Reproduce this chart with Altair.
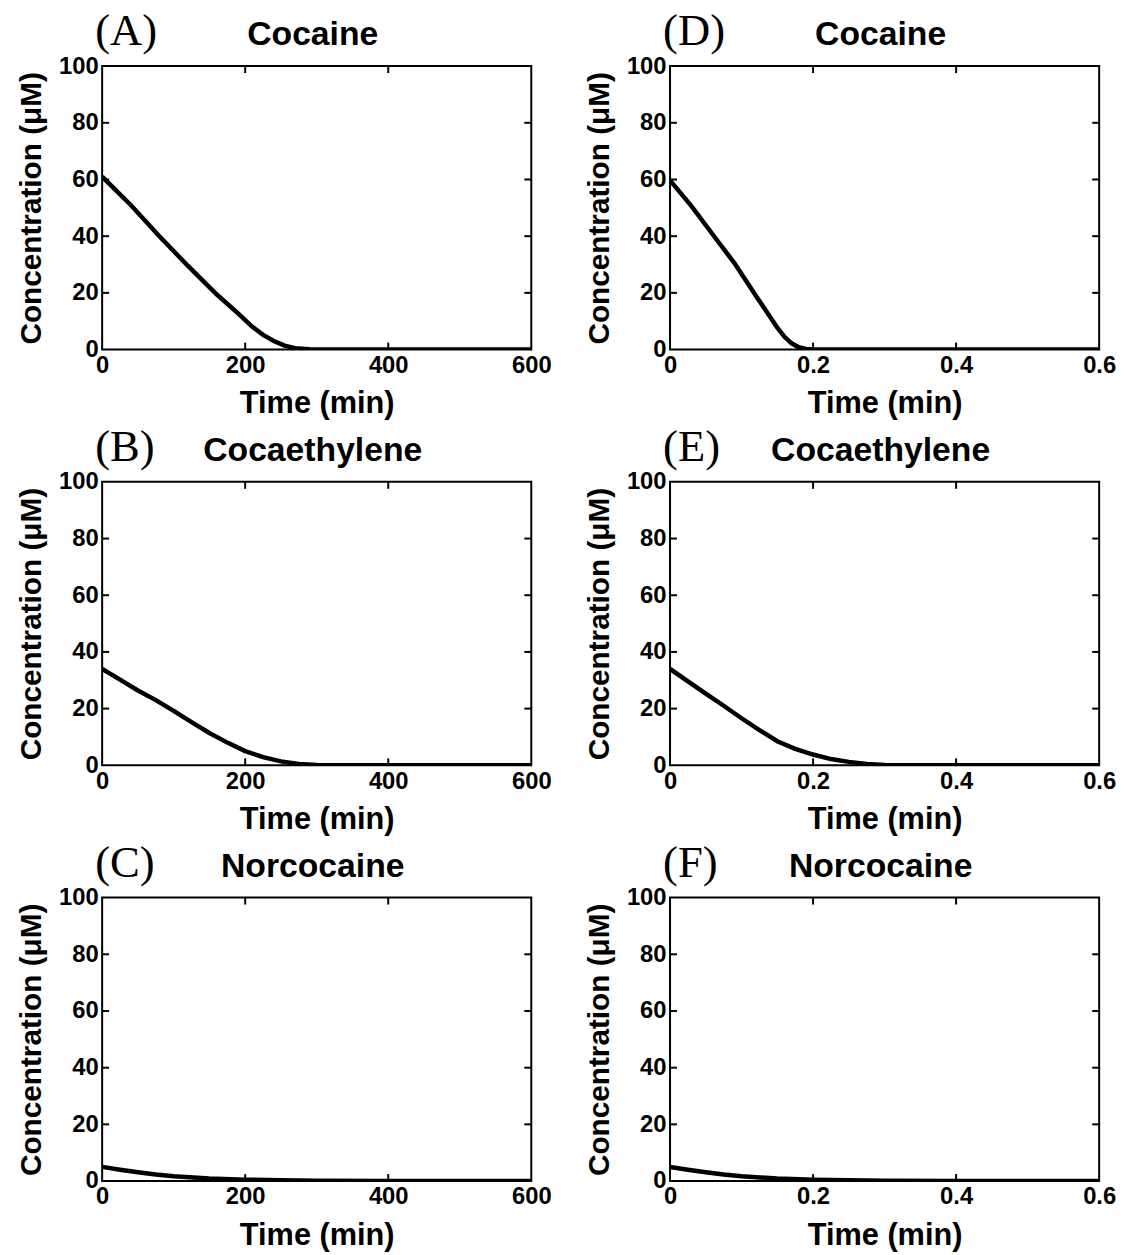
import altair as alt
import pandas as pd

# ---- data ----
A_t = [0, 40, 80, 120, 160, 190, 210, 225, 240, 255, 270, 290, 320, 600]
A_c = [61, 51, 40, 29.5, 19.5, 12.8, 8, 5.2, 3, 1.4, 0.5, 0.15, 0, 0]

B_t = [0, 25, 50, 75, 100, 125, 150, 175, 200, 225, 250, 275, 300, 600]
B_c = [34, 30.2, 26.4, 23, 19.2, 15.2, 11.4, 8, 5, 2.9, 1.4, 0.5, 0.1, 0]

C_t = [0, 25, 50, 75, 100, 150, 200, 250, 300, 400, 600]
C_c = [5, 4, 3.1, 2.3, 1.7, 0.9, 0.5, 0.3, 0.15, 0.05, 0]

D_t = [0, 0.03, 0.06, 0.09, 0.12, 0.14, 0.15, 0.16, 0.17, 0.18, 0.19, 0.2, 0.6]
D_c = [59.7, 50.6, 40.5, 30.5, 19, 11.5, 7.7, 4.5, 2.2, 0.8, 0.2, 0, 0]

E_t = [0, 0.025, 0.05, 0.075, 0.1, 0.125, 0.15, 0.175, 0.2, 0.225, 0.25, 0.275, 0.3, 0.6]
E_c = [34, 29.6, 25.3, 21, 16.6, 12.4, 8.5, 5.8, 3.8, 2.2, 1.2, 0.5, 0.15, 0]

F_t = [0, 0.025, 0.05, 0.075, 0.1, 0.15, 0.2, 0.25, 0.3, 0.4, 0.6]
F_c = [5, 4, 3.1, 2.3, 1.7, 0.9, 0.5, 0.3, 0.15, 0.05, 0]

min_ticks = [0, 200, 400, 600]
frac_ticks = [0, 0.2, 0.4, 0.6]
y_ticks = [0, 20, 40, 60, 80, 100]

letters = ["(A)", "(B)", "(C)", "(D)", "(E)", "(F)"]
titles = ["Cocaine", "Cocaethylene", "Norcocaine", "Cocaine", "Cocaethylene", "Norcocaine"]

W, H = 433, 286
TICK = 7
SANS = "Liberation Sans"


def panel(letter, title, t, c, xmax, xticks):
    df = pd.DataFrame({"t": t, "c": c})
    xs = alt.Scale(domain=[0, xmax], nice=False, zero=False)
    ys = alt.Scale(domain=[0, 100], nice=False)
    xaxis = alt.Axis(values=xticks, title="Time (min)", format="~r", ticks=False,
                     domain=False, grid=False, labelFlush=False, labelOverlap=False,
                     labelFont=SANS, labelFontSize=24, labelFontWeight="bold",
                     labelColor="black", labelPadding=4,
                     titleFont=SANS, titleFontSize=31, titleFontWeight="bold",
                     titleColor="black", titlePadding=12)
    yaxis = alt.Axis(values=y_ticks, title="Concentration (μM)", ticks=False,
                     domain=False, grid=False, labelFlush=False, labelOverlap=False,
                     labelFont=SANS, labelFontSize=24, labelFontWeight="bold",
                     labelColor="black", labelPadding=4,
                     titleFont=SANS, titleFontSize=30, titleFontWeight="bold",
                     titleColor="black", titlePadding=12)
    X = alt.X("t:Q", scale=xs, axis=xaxis)
    Y = alt.Y("c:Q", scale=ys, axis=yaxis)
    line = alt.Chart(df).mark_line(color="black", strokeWidth=4.5, clip=True).encode(x=X, y=Y)
    inner_x = pd.DataFrame({"t": xticks[1:-1]})
    inner_y = pd.DataFrame({"c": y_ticks[1:-1]})
    tb = alt.Chart(inner_x).mark_rule(color="black", strokeWidth=2).encode(
        x=X, y=alt.value(H), y2=alt.value(H - TICK))
    tt = alt.Chart(inner_x).mark_rule(color="black", strokeWidth=2).encode(
        x=X, y=alt.value(0), y2=alt.value(TICK))
    tl = alt.Chart(inner_y).mark_rule(color="black", strokeWidth=2).encode(
        y=Y, x=alt.value(0), x2=alt.value(TICK))
    tr = alt.Chart(inner_y).mark_rule(color="black", strokeWidth=2).encode(
        y=Y, x=alt.value(W), x2=alt.value(W - TICK))
    lab = alt.Chart(pd.DataFrame({"lab": [letter]})).mark_text(
        font="Liberation Serif", fontSize=45, align="left", baseline="alphabetic",
        color="black").encode(x=alt.value(-7), y=alt.value(-21), text="lab:N")
    ttl = alt.Chart(pd.DataFrame({"lab": [title]})).mark_text(
        font=SANS, fontSize=34, fontWeight="bold", align="center", baseline="alphabetic",
        color="black").encode(x=alt.value(W / 2 - 4), y=alt.value(-21), text="lab:N")
    return alt.layer(line, tb, tt, tl, tr, lab, ttl).properties(width=W, height=H)


series = [(A_t, A_c, 600, min_ticks), (B_t, B_c, 600, min_ticks), (C_t, C_c, 600, min_ticks),
          (D_t, D_c, 0.6, frac_ticks), (E_t, E_c, 0.6, frac_ticks), (F_t, F_c, 0.6, frac_ticks)]
panels = [panel(letters[i], titles[i], *series[i]) for i in range(6)]

rows = [alt.hconcat(panels[i], panels[i + 3], spacing=30) for i in range(3)]
chart = alt.vconcat(*rows, spacing=4.5).properties(
    background="white",
    padding={"left": 7, "top": -5, "right": 0, "bottom": 0},
).configure_view(stroke="black", strokeWidth=2)

chart.save("out.html", embed_options={"renderer": "svg", "actions": False})
